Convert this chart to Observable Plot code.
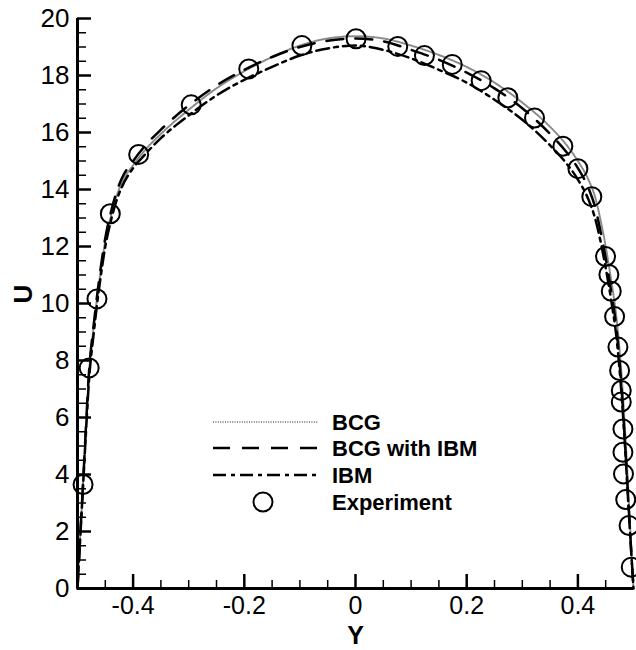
<!DOCTYPE html>
<html><head><meta charset="utf-8">
<script src="https://cdn.jsdelivr.net/npm/d3@7"></script>
<script src="https://cdn.jsdelivr.net/npm/@observablehq/plot@0.6"></script>
<style>
html,body{margin:0;padding:0;background:#fff;}
#wrap{position:relative;width:636px;height:650px;}
#wrap svg.legend{position:absolute;left:0;top:0;pointer-events:none;}
</style></head><body><div id="wrap"></div>
<script>
// ---- data ----
const gridY = [-0.5,-0.495,-0.49,-0.485,-0.48,-0.47,-0.46,-0.45,-0.44,-0.43,-0.42,-0.4,-0.38,-0.35,-0.3,-0.25,-0.2,-0.15,-0.1,-0.05,0,0.05,0.1,0.15,0.2,0.25,0.3,0.35,0.38,0.4,0.42,0.43,0.44,0.45,0.46,0.47,0.48,0.485,0.49,0.495,0.5];
const uBCG = [0,1.9,3.7,5.6,7.35,9.35,10.9,12.2,13.05,13.75,14.25,14.85,15.35,15.95,16.8,17.55,18.15,18.65,19.05,19.3,19.38,19.3,19.05,18.72,18.3,17.75,17.05,16.2,15.55,15.0,14.3,13.8,13.0,12.0,10.8,9.4,7.1,5.5,3.7,1.8,0];
const uBCGwithIBM = [0,1.9,3.7,5.6,7.4,9.4,11.0,12.3,13.2,13.9,14.4,15.0,15.5,16.1,16.95,17.65,18.2,18.65,19.0,19.22,19.3,19.2,18.9,18.55,18.1,17.55,16.85,15.95,15.3,14.75,14.0,13.45,12.6,11.6,10.4,9.0,6.6,5.0,3.3,1.6,0];
const uIBM = [0,1.8,3.6,5.4,7.1,9.1,10.7,12.0,12.9,13.6,14.1,14.75,15.2,15.8,16.6,17.3,17.85,18.3,18.7,18.95,19.05,18.9,18.6,18.2,17.75,17.15,16.45,15.55,14.9,14.35,13.6,13.05,12.25,11.25,10.1,8.7,6.4,4.9,3.2,1.55,0];
const expY = [-0.490,-0.479,-0.465,-0.441,-0.390,-0.2955,-0.192,-0.0964,0.001,0.076,0.124,0.174,0.226,0.274,0.322,0.373,0.400,0.425,0.4497,0.4557,0.460,0.466,0.472,0.475,0.478,0.478,0.481,0.481,0.482,0.486,0.492,0.496];
const expU = [3.65,7.74,10.16,13.15,15.23,16.97,18.23,19.05,19.29,19.02,18.70,18.39,17.82,17.22,16.51,15.52,14.73,13.75,11.65,11.02,10.43,9.54,8.47,7.65,6.95,6.54,5.60,4.78,4.02,3.12,2.21,0.75];

const xMajorTicks = [-0.4,-0.2,0,0.2,0.4];
const xTickLabels = ["-0.4","-0.2","0","0.2","0.4"];
const xMinorTicks = [-0.45,-0.35,-0.3,-0.25,-0.15,-0.1,-0.05,0.05,0.1,0.15,0.25,0.3,0.35,0.45];
const yMajorTicks = [0,2,4,6,8,10,12,14,16,18,20];
const yTickLabels = ["0","2","4","6","8","10","12","14","16","18","20"];
const yMinorTicks = [0.5,1,1.5,2.5,3,3.5,4.5,5,5.5,6.5,7,7.5,8.5,9,9.5,10.5,11,11.5,12.5,13,13.5,14.5,15,15.5,16.5,17,17.5,18.5,19,19.5];
const legendNames = ["BCG","BCG with IBM","IBM","Experiment"];
const xLabel = "Y", yLabel = "U";

// ---- tables ----
const lineRows = [];
gridY.forEach((y,i)=>{
  lineRows.push({series:"BCG",Y:y,U:uBCG[i]});
  lineRows.push({series:"BCG with IBM",Y:y,U:uBCGwithIBM[i]});
  lineRows.push({series:"IBM",Y:y,U:uIBM[i]});
});
const expRows = expY.map((y,i)=>({Y:y,U:expU[i]}));

const styles = {
  "BCG": {stroke:"#8a8a8a", strokeWidth:2, strokeDasharray:"1,1.4"},
  "BCG with IBM": {stroke:"#000", strokeWidth:2.5, strokeDasharray:"17,12"},
  "IBM": {stroke:"#000", strokeWidth:2.5, strokeDasharray:"13,5,4,5"}
};

const font = "'Liberation Sans', Arial, Helvetica, sans-serif";
const chart = Plot.plot({
  width: 636, height: 650,
  marginLeft: 77, marginRight: 3, marginTop: 18, marginBottom: 62,
  style: {fontFamily: font, color: "#000", background: "#fff", overflow: "visible"},
  x: {domain: [-0.5, 0.5]},
  y: {domain: [0, 20]},
  marks: [
    ...["BCG","BCG with IBM","IBM"].map(s => Plot.line(lineRows.filter(d=>d.series===s), {x:"Y", y:"U", curve:"monotone-x", ...styles[s]})),
    Plot.dot(expRows, {x:"Y", y:"U", r:9.5, stroke:"#000", strokeWidth:2, fill:"none"}),
    Plot.ruleX([-0.5], {strokeWidth:3}),
    Plot.ruleY([0], {strokeWidth:3}),
    Plot.axisX(xMajorTicks, {tickSize:-14, strokeWidth:2.5, tickFormat:()=>"", label:null}),
    Plot.axisX(xMinorTicks, {tickSize:-8, strokeWidth:1.5, tickFormat:()=>"", label:null}),
    Plot.axisY(yMajorTicks, {tickSize:-14, strokeWidth:2.5, tickFormat:()=>"", label:null}),
    Plot.axisY(yMinorTicks, {tickSize:-9, strokeWidth:1.5, tickFormat:()=>"", label:null}),
    Plot.axisX(xMajorTicks, {tickSize:0, tickPadding:8, fontSize:25, tickFormat:d=>xTickLabels[xMajorTicks.indexOf(d)], label:null}),
    Plot.axisY(yMajorTicks, {tickSize:0, tickPadding:8, fontSize:26, tickFormat:d=>yTickLabels[yMajorTicks.indexOf(d)], label:null}),
    Plot.text([xLabel], {text:d=>d, frameAnchor:"bottom", dy:38, lineAnchor:"top", fontSize:25, fontWeight:"bold"}),
    Plot.text([yLabel], {text:d=>d, frameAnchor:"left", dx:-54, rotate:-90, fontSize:26, fontWeight:"bold"})
  ]
});
const wrap = document.getElementById("wrap");
wrap.appendChild(chart);

// ---- legend overlay ----
const lg = d3.select(wrap).append("svg").attr("class","legend").attr("width",636).attr("height",650)
  .style("font-family", font);
const rowY = [422,448,475,502];
legendNames.forEach((name,i)=>{
  const y = rowY[i];
  if (styles[name]) {
    const st = styles[name];
    lg.append("line").attr("x1",213).attr("x2",318).attr("y1",y).attr("y2",y)
      .attr("stroke",st.stroke).attr("stroke-width",st.strokeWidth).attr("stroke-dasharray",st.strokeDasharray);
  } else {
    lg.append("circle").attr("cx",263).attr("cy",y).attr("r",9.5).attr("fill","none").attr("stroke","#000").attr("stroke-width",2);
  }
  lg.append("text").attr("x",332).attr("y",y).attr("dy","0.35em").attr("font-size",22).attr("font-weight","bold").text(name);
});
</script>
</body></html>
